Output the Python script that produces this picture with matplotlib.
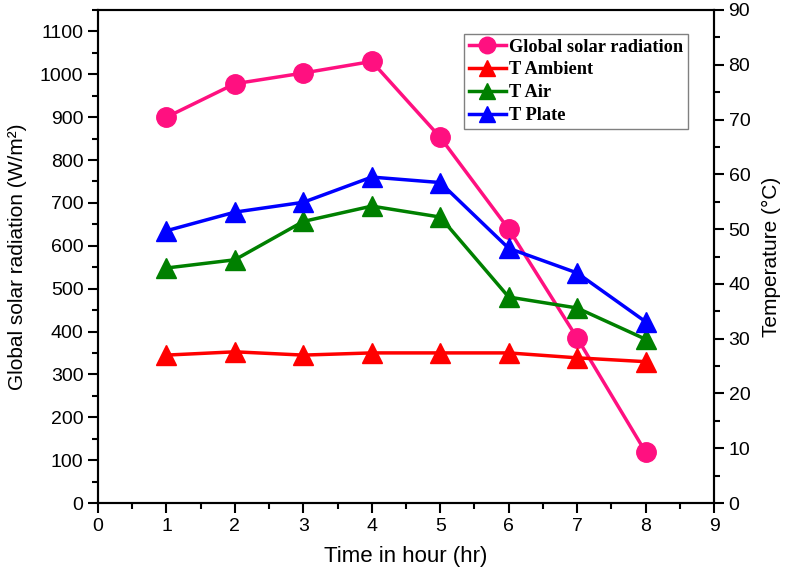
import matplotlib
matplotlib.use("Agg")
import matplotlib.pyplot as plt
from matplotlib.ticker import MultipleLocator

hours = [1, 2, 3, 4, 5, 6, 7, 8]
radiation = [900, 978, 1003, 1030, 853, 639, 385, 119]
t_ambient = [27.0, 27.6, 27.0, 27.4, 27.4, 27.4, 26.5, 25.8]
t_air = [42.9, 44.4, 51.4, 54.2, 52.2, 37.6, 35.6, 29.9]
t_plate = [49.7, 53.1, 54.9, 59.5, 58.5, 46.5, 42.0, 33.1]

plt.rcParams['font.family'] = ['Liberation Sans', 'DejaVu Sans']

fig = plt.figure(figsize=(7.88, 5.82), dpi=100)
ax = fig.add_axes([98/788, 1 - 503/582, (714-98)/788, (503-10)/582])
ax2 = ax.twinx()

l1, = ax.plot(hours, radiation, '-o', color='#FF1080', lw=2.5, ms=14, label='Global solar radiation')
l2, = ax2.plot(hours, t_ambient, '-^', color='#FF0000', lw=2.5, ms=14, label='T Ambient')
l3, = ax2.plot(hours, t_air, '-^', color='#008000', lw=2.5, ms=14, label='T Air')
l4, = ax2.plot(hours, t_plate, '-^', color='#0000FF', lw=2.5, ms=14, label='T Plate')

ax.set_xlim(0, 9)
ax.set_ylim(0, 1150)
ax2.set_ylim(0, 90)
ax.xaxis.set_major_locator(MultipleLocator(1))
ax.xaxis.set_minor_locator(MultipleLocator(0.5))
ax.yaxis.set_major_locator(MultipleLocator(100))
ax.yaxis.set_minor_locator(MultipleLocator(50))
ax2.yaxis.set_major_locator(MultipleLocator(10))
ax2.yaxis.set_minor_locator(MultipleLocator(5))

for a in (ax, ax2):
    for s in a.spines.values():
        s.set_linewidth(1.5)
    a.tick_params(which='major', direction='out', length=7, width=1.5, labelsize=14)
    a.tick_params(which='minor', direction='out', length=4, width=1.5)

ax.set_xlabel('Time in hour (hr)', fontsize=16, labelpad=8)
ax.set_ylabel('Global solar radiation (W/m²)', fontsize=15, labelpad=9)
ax2.set_ylabel('Temperature (°C)', fontsize=15, labelpad=8)

leg = ax2.legend(handles=[l1, l2, l3, l4], loc='upper right',
                 bbox_to_anchor=((688-98)/616, (503-34)/493), borderaxespad=0,
                 prop={'family': 'Liberation Serif', 'weight': 'bold', 'size': 13.2},
                 fancybox=False, edgecolor='#808080', framealpha=1,
                 handlelength=2.0, handletextpad=0.2, labelspacing=0.32, borderpad=0.25,
                 markerscale=0.85)
leg.get_frame().set_linewidth(1.0)

fig.savefig('out.png', dpi=100)
